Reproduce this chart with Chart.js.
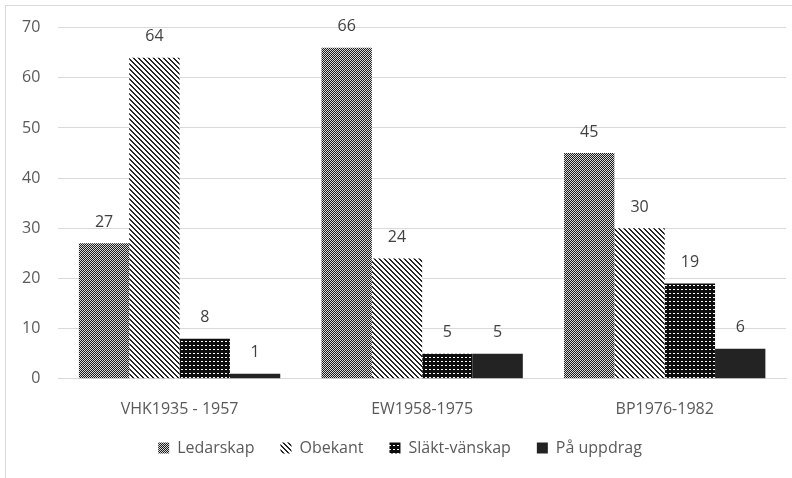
<!DOCTYPE html>
<html>
<head>
<meta charset="utf-8">
<script src="https://cdn.jsdelivr.net/npm/chart.js@4/dist/chart.umd.min.js"></script>
<style>
    html, body { margin: 0; padding: 0; background: #fff; overflow: hidden; }
    #frame {
        position: absolute; left: 5px; top: 5px; width: 800px; height: 500px;
        border: 1px solid #d9d9d9; box-sizing: border-box;
    }
    #wrap { position: absolute; left: 0; top: 0; width: 792px; height: 478px; }
</style>
</head>
<body>
<div id="frame"></div>
<div id="wrap"><canvas id="chart" width="792" height="478"></canvas></div>
<script>
// Data
const categories = ['VHK1935 - 1957', 'EW1958-1975', 'BP1976-1982'];
const ledarskap = [27, 66, 45];
const obekant = [64, 24, 30];
const slaktVanskap = [8, 5, 19];
const paUppdrag = [1, 5, 6];
const yTicks = [0, 10, 20, 30, 40, 50, 60, 70];

const FONT = '"Open Sans", "Liberation Sans", sans-serif';

// Pattern fills, built pixel by pixel on a small tile
function makePattern(size, bg, fg, pixels) {
    const c = document.createElement('canvas');
    c.width = size;
    c.height = size;
    const g = c.getContext('2d');
    g.fillStyle = bg;
    g.fillRect(0, 0, size, size);
    g.fillStyle = fg;
    pixels.forEach(([x, y, w, h]) => g.fillRect(x, y, w || 1, h || 1));
    return g.createPattern(c, 'repeat');
}

const checker = [];
for (let y = 0; y < 4; y++) {
    for (let x = 0; x < 4; x++) {
        if ((x + y) % 2 === 0) checker.push([x, y]);
    }
}
const pLedarskap = makePattern(4, '#1c1c1c', '#d8d8d8', checker);

const diag = [];
for (let i = 0; i < 5; i++) {
    diag.push([i, i]);
    diag.push([(i + 1) % 5, i]);
}
const pObekant = makePattern(5, '#ffffff', '#262626', diag);

const pSlakt = makePattern(4, '#0d0d0d', '#ffffff', [[1, 1, 2, 1]]);

const ctx = document.getElementById('chart').getContext('2d');

// Values written above each bar
const barLabels = {
    id: 'barLabels',
    afterDatasetsDraw(chart) {
        const c = chart.ctx;
        c.save();
        c.font = '16px ' + FONT;
        c.fillStyle = '#404040';
        c.textAlign = 'center';
        c.textBaseline = 'middle';
        chart.data.datasets.forEach((ds, i) => {
            chart.getDatasetMeta(i).data.forEach((bar, j) => {
                c.fillText(String(ds.data[j]), bar.x, bar.y - 21);
            });
        });
        c.restore();
    }
};

// Pull the legend up closer to the category labels
const legendShift = {
    id: 'legendShift',
    afterLayout(chart) {
        chart.legend.top -= 26;
        chart.legend.bottom -= 26;
        chart.legend.left += 5;
        chart.legend.right += 5;
    }
};

new Chart(ctx, {
    type: 'bar',
    data: {
        labels: categories,
        datasets: [
            { label: 'Ledarskap', data: ledarskap, backgroundColor: pLedarskap },
            { label: 'Obekant', data: obekant, backgroundColor: pObekant },
            { label: 'Släkt-vänskap', data: slaktVanskap, backgroundColor: pSlakt },
            { label: 'På uppdrag', data: paUppdrag, backgroundColor: '#232323' }
        ]
    },
    options: {
        responsive: false,
        animation: false,
        devicePixelRatio: 1,
        layout: { padding: { left: 4, right: 6, top: 26, bottom: -7 } },
        datasets: {
            bar: { categoryPercentage: 0.83, barPercentage: 1.0, borderWidth: 0 }
        },
        plugins: {
            legend: {
                position: 'bottom',
                maxHeight: 45,
                labels: {
                    boxWidth: 11,
                    boxHeight: 11,
                    padding: 26,
                    color: '#595959',
                    font: { size: 16, family: FONT }
                }
            },
            tooltip: { enabled: false }
        },
        scales: {
            x: {
                grid: { display: false, drawTicks: false },
                border: { color: '#d9d9d9', width: 1 },
                ticks: {
                    color: '#595959',
                    padding: 21,
                    font: { size: 16, family: FONT }
                }
            },
            y: {
                min: 0,
                max: 70,
                afterBuildTicks(axis) {
                    axis.ticks = yTicks.map(v => ({ value: v }));
                },
                grid: { color: '#d9d9d9', drawTicks: false },
                border: { display: false },
                ticks: {
                    color: '#595959',
                    padding: 18,
                    font: { size: 16, family: FONT }
                }
            }
        }
    },
    plugins: [barLabels, legendShift]
});
</script>
</body>
</html>
